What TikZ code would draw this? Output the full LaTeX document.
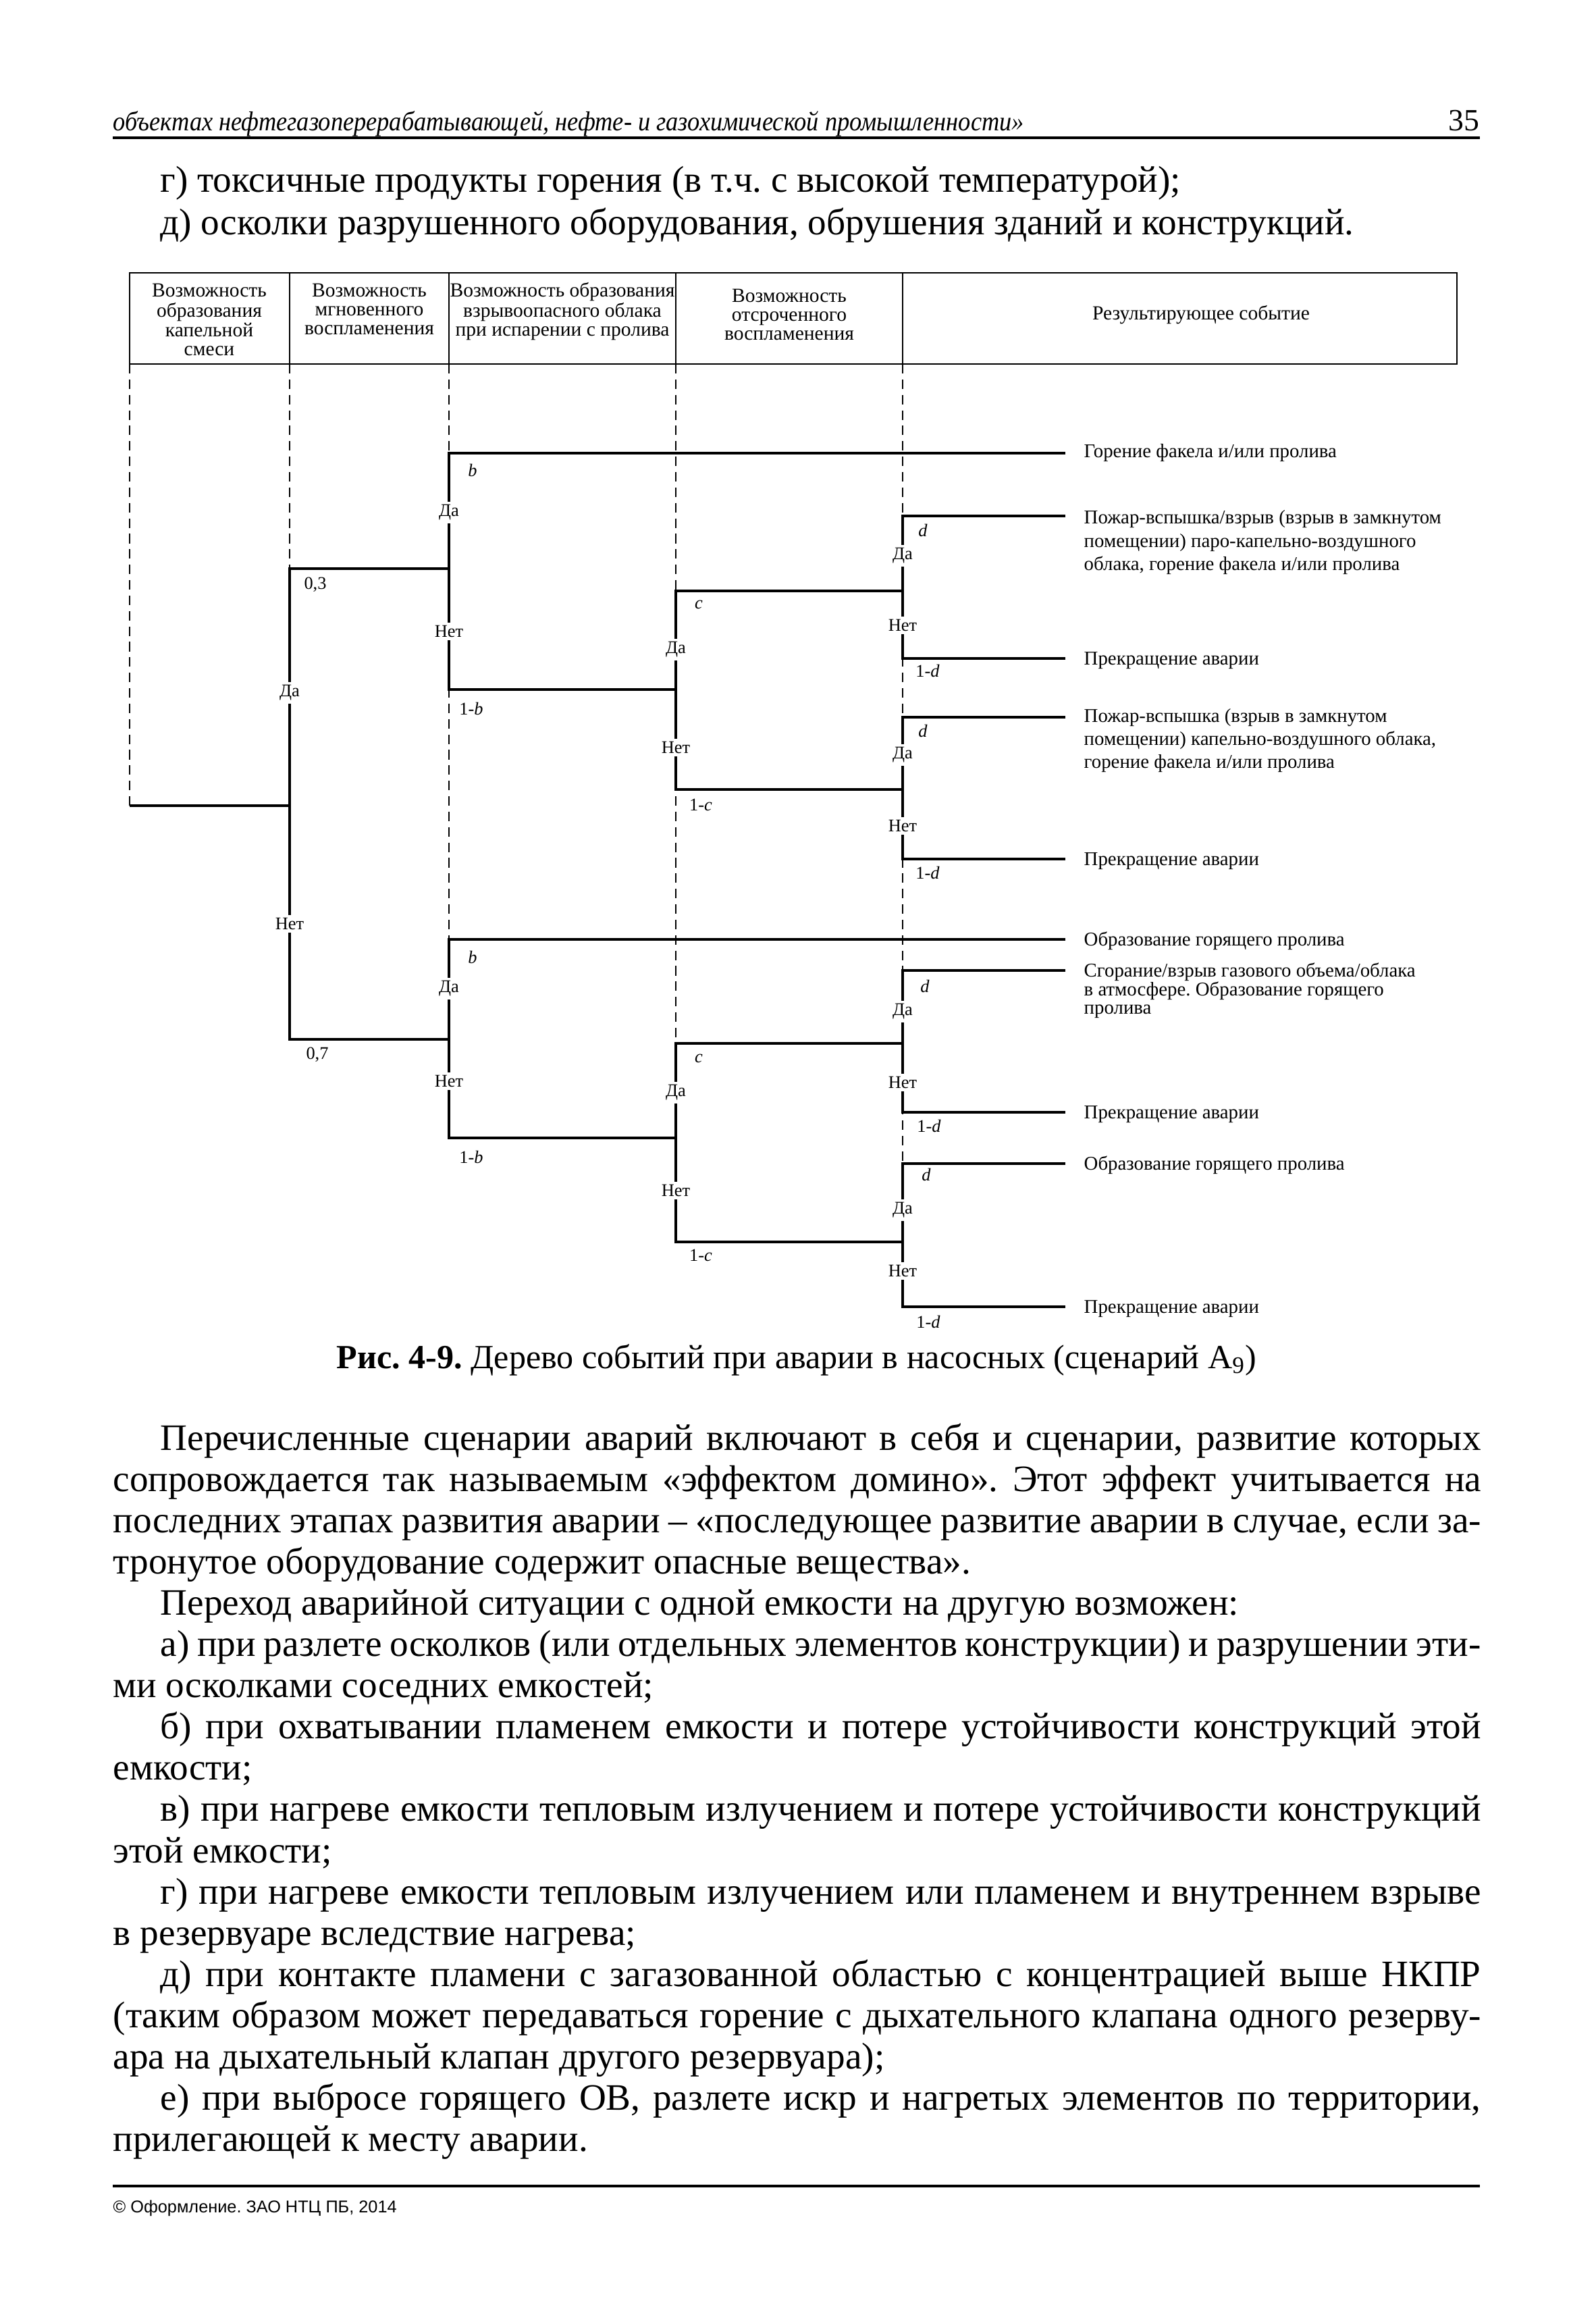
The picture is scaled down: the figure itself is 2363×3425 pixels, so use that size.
\documentclass[tikz,border=0pt]{standalone}
\usepackage{fontspec}
\usepackage{graphicx}
\setmainfont{Liberation Serif}
\newfontfamily\footf{Liberation Sans}
\frenchspacing
\newcommand\bodyf{\fontsize{15.7}{18.5}\selectfont}
\newcommand\capf{\fontsize{14.25}{17}\selectfont}
\newcommand\runf{\fontsize{11.5}{14}\selectfont\itshape}
\newcommand\evf{\fontsize{8.2}{9.7}\selectfont}
\newcommand\evtf{\fontsize{8.2}{7.7}\selectfont}
\newcommand\lblf{\fontsize{7.5}{9}\selectfont}
\newcommand\hdf{\fontsize{8.4}{7.96}\selectfont}
\newcommand\lft[1]{\begin{tabular}[t]{@{}l@{}}#1\end{tabular}}
\newcommand\ctr[1]{\begin{tabular}[t]{@{}c@{}}#1\end{tabular}}
\newcommand\jfull[1]{\makebox[576.2pt][s]{#1}}
\newcommand\jind[1]{\makebox[556.2pt][s]{#1}}
\tikzset{
  br/.style={line width=1.1pt, line join=miter},
  dsh/.style={line width=0.4pt, dash pattern=on 4pt off 2.5pt},
  tbl/.style={line width=0.6pt},
  yn/.style={font=\lblf, fill=white, inner sep=1.2pt},
  pr/.style={font=\lblf, inner sep=0pt},
  ev/.style={font=\evf, inner sep=0pt, anchor=base west},
  hd/.style={font=\hdf, inner sep=0pt, anchor=base},
  bt/.style={font=\bodyf, inner sep=0pt, anchor=base west},
  rule/.style={line width=0.9pt}
}
\begin{document}
\begin{tikzpicture}[x=0.01cm, y=-0.01cm]
\useasboundingbox[fill=white] (0,0) rectangle (2363,3425);

% running head
\node[font=\runf, inner sep=0pt, anchor=base west] (head) at (167,194) {\scalebox{0.9}[1]{объектах нефтегазоперерабатывающей, нефте- и газохимической промышленности»}};
\node[font=\fontsize{13}{15}\selectfont, inner sep=0pt, anchor=base east] (pg) at (2192,194) {35};
\coordinate (hl) at (167,204); \coordinate (hr) at (2192,204);
\draw[rule] (hl) -- (hr);

% top text lines
\node[bt] (tg) at (237,285) {г) токсичные продукты горения (в т.ч. с высокой температурой);};
\node[bt] (td) at (237,348) {д) осколки разрушенного оборудования, обрушения зданий и конструкций.};

% table header
\coordinate (t0) at (192,404); \coordinate (t1) at (2158,539);
\draw[tbl] (t0) rectangle (t1);
\foreach \xx/\nm in {192/k1,429/k2,665/k3,1001/k4,1337/k5}{
  \coordinate (\nm t) at (\xx,404); \coordinate (\nm b) at (\xx,539);
}
\foreach \nm in {k2,k3,k4,k5}{ \draw[tbl] (\nm t) -- (\nm b); }
\node[hd] (h1) at (310,440) {\ctr{Возможность\\образования\\капельной\\смеси}};
\node[hd] (h2) at (547,440) {\ctr{Возможность\\мгновенного\\воспламенения}};
\node[hd] (h3) at (833,440) {\ctr{Возможность образования\\взрывоопасного облака\\при испарении с пролива}};
\node[hd] (h4) at (1169,448) {\ctr{Возможность\\отсроченного\\воспламенения}};
\node[hd] (h5) at (1779,474) {Результирующее событие};

% tree coordinates
\coordinate (r0) at (192,1193); \coordinate (r1) at (429,1193);
\coordinate (a1) at (429,842); \coordinate (a2) at (429,1539);
\coordinate (b1t) at (665,671); \coordinate (b1m) at (665,842); \coordinate (b1b) at (665,1021);
\coordinate (b2t) at (665,1391); \coordinate (b2m) at (665,1539); \coordinate (b2b) at (665,1685);
\coordinate (c1t) at (1001,875); \coordinate (c1m) at (1001,1021); \coordinate (c1b) at (1001,1169);
\coordinate (c2t) at (1001,1545); \coordinate (c2m) at (1001,1685); \coordinate (c2b) at (1001,1839);
\coordinate (d1t) at (1337,764); \coordinate (d1m) at (1337,875); \coordinate (d1b) at (1337,975);
\coordinate (d2t) at (1337,1062); \coordinate (d2m) at (1337,1169); \coordinate (d2b) at (1337,1272);
\coordinate (d3t) at (1337,1437); \coordinate (d3m) at (1337,1545); \coordinate (d3b) at (1337,1647);
\coordinate (d4t) at (1337,1723); \coordinate (d4m) at (1337,1839); \coordinate (d4b) at (1337,1935);
\coordinate (e1) at (1578,671); \coordinate (e2) at (1578,764); \coordinate (e3) at (1578,975);
\coordinate (e4) at (1578,1062); \coordinate (e5) at (1578,1272); \coordinate (e6) at (1578,1391);
\coordinate (e7) at (1578,1437); \coordinate (e8) at (1578,1647); \coordinate (e9) at (1578,1723);
\coordinate (e10) at (1578,1935);

% dashed column guides
\draw[dsh] (k1b) -- (r0);
\draw[dsh] (k2b) -- (a1);
\draw[dsh] (k3b) -- (b2b);
\draw[dsh] (k4b) -- (c2b);
\draw[dsh] (k5b) -- (d4b);

% solid branches
\draw[br] (r0) -- (r1);
\draw[br] (b1m) -- (a1) -- (a2) -- (b2m);
\draw[br] (e1) -- (b1t) -- (b1b) -- (c1m);
\draw[br] (d1m) -- (c1t) -- (c1b) -- (d2m);
\draw[br] (e2) -- (d1t) -- (d1b) -- (e3);
\draw[br] (e4) -- (d2t) -- (d2b) -- (e5);
\draw[br] (e6) -- (b2t) -- (b2b) -- (c2m);
\draw[br] (d3m) -- (c2t) -- (c2b) -- (d4m);
\draw[br] (e7) -- (d3t) -- (d3b) -- (e8);
\draw[br] (e9) -- (d4t) -- (d4b) -- (e10);

% yes / no labels
\node[yn] (y0) at (429,1026) {Да};   \node[yn] (n0) at (429,1368) {Нет};
\node[yn] (y1) at (665,759) {Да};    \node[yn] (n1) at (665,935) {Нет};
\node[yn] (y2) at (665,1464) {Да};   \node[yn] (n2) at (665,1601) {Нет};
\node[yn] (y3) at (1001,962) {Да};   \node[yn] (n3) at (1001,1107) {Нет};
\node[yn] (y4) at (1001,1618) {Да};  \node[yn] (n4) at (1001,1763) {Нет};
\node[yn] (y5) at (1337,823) {Да};   \node[yn] (n5) at (1337,926) {Нет};
\node[yn] (y6) at (1337,1118) {Да};  \node[yn] (n6) at (1337,1223) {Нет};
\node[yn] (y7) at (1337,1498) {Да};  \node[yn] (n7) at (1337,1603) {Нет};
\node[yn] (y8) at (1337,1792) {Да};  \node[yn] (n8) at (1337,1882) {Нет};

% probabilities
\node[pr] (p03) at (467,866) {0,3};
\node[pr] (p07) at (470,1562) {0,7};
\node[pr] (pb1) at (700,696) {\itshape b};
\node[pr] (pnb1) at (698,1049) {1-\textit{b}};
\node[pr] (pb2) at (700,1417) {\itshape b};
\node[pr] (pnb2) at (698,1713) {1-\textit{b}};
\node[pr] (pc1) at (1035,895) {\itshape c};
\node[pr] (pnc1) at (1038,1192) {1-\textit{c}};
\node[pr] (pc2) at (1035,1567) {\itshape c};
\node[pr] (pnc2) at (1038,1859) {1-\textit{c}};
\node[pr] (pd1) at (1367,785) {\itshape d};
\node[pr] (pnd1) at (1374,993) {1-\textit{d}};
\node[pr] (pd2) at (1367,1082) {\itshape d};
\node[pr] (pnd2) at (1374,1292) {1-\textit{d}};
\node[pr] (pd3) at (1370,1460) {\itshape d};
\node[pr] (pnd3) at (1376,1667) {1-\textit{d}};
\node[pr] (pd4) at (1372,1739) {\itshape d};
\node[pr] (pnd4) at (1375,1957) {1-\textit{d}};

% outcomes
\node[ev] (o1) at (1605,678) {Горение факела и/или пролива};
\node[ev] (o2) at (1605,776) {\lft{Пожар-вспышка/взрыв (взрыв в замкнутом\\помещении) паро-капельно-воздушного\\облака, горение факела и/или пролива}};
\node[ev] (o3) at (1605,984) {Прекращение аварии};
\node[ev] (o4) at (1605,1069) {\lft{Пожар-вспышка (взрыв в замкнутом\\помещении) капельно-воздушного облака,\\горение факела и/или пролива}};
\node[ev] (o5) at (1605,1281) {Прекращение аварии};
\node[ev] (o6) at (1605,1400) {Образование горящего пролива};
\node[ev, font=\evtf] (o7) at (1605,1446) {\lft{Сгорание/взрыв газового объема/облака\\в атмосфере. Образование горящего\\пролива}};
\node[ev] (o8) at (1605,1656) {Прекращение аварии};
\node[ev] (o9) at (1605,1732) {Образование горящего пролива};
\node[ev] (o10) at (1605,1944) {Прекращение аварии};

% caption
\node[font=\capf, inner sep=0pt, anchor=base] (cap) at (1180,2026) {\textbf{Рис. 4-9.} Дерево событий при аварии в насосных (сценарий А\textsubscript{9})};

% body text
\node[bt] (l0) at (237,2147.0) {\jind{Перечисленные сценарии аварий включают в себя и сценарии, развитие которых}};
\node[bt] (l1) at (167,2208.1) {\jfull{сопровождается так называемым «эффектом домино». Этот эффект учитывается на}};
\node[bt] (l2) at (167,2269.2) {\jfull{последних этапах развития аварии – «последующее развитие аварии в случае, если за-}};
\node[bt] (l3) at (167,2330.3) {тронутое оборудование содержит опасные вещества».};
\node[bt] (l4) at (237,2391.4) {Переход аварийной ситуации с одной емкости на другую возможен:};
\node[bt] (l5) at (237,2452.5) {\jind{а) при разлете осколков (или отдельных элементов конструкции) и разрушении эти-}};
\node[bt] (l6) at (167,2513.6) {ми осколками соседних емкостей;};
\node[bt] (l7) at (237,2574.7) {\jind{б) при охватывании пламенем емкости и потере устойчивости конструкций этой}};
\node[bt] (l8) at (167,2635.8) {емкости;};
\node[bt] (l9) at (237,2696.9) {\jind{в) при нагреве емкости тепловым излучением и потере устойчивости конструкций}};
\node[bt] (l10) at (167,2758.0) {этой емкости;};
\node[bt] (l11) at (237,2819.1) {\jind{г) при нагреве емкости тепловым излучением или пламенем и внутреннем взрыве}};
\node[bt] (l12) at (167,2880.2) {в резервуаре вследствие нагрева;};
\node[bt] (l13) at (237,2941.3) {\jind{д) при контакте пламени с загазованной областью с концентрацией выше НКПР}};
\node[bt] (l14) at (167,3002.4) {\jfull{(таким образом может передаваться горение с дыхательного клапана одного резерву-}};
\node[bt] (l15) at (167,3063.5) {ара на дыхательный клапан другого резервуара);};
\node[bt] (l16) at (237,3124.6) {\jind{е) при выбросе горящего ОВ, разлете искр и нагретых элементов по территории,}};
\node[bt] (l17) at (167,3185.7) {прилегающей к месту аварии.};

% footer
\coordinate (fl) at (167,3237); \coordinate (fr) at (2192,3237);
\draw[rule] (fl) -- (fr);
\node[font=\footf\fontsize{7.2}{8}\selectfont, inner sep=0pt, anchor=base west] (foot) at (167,3276) {© Оформление. ЗАО НТЦ ПБ, 2014};
\end{tikzpicture}
\end{document}
